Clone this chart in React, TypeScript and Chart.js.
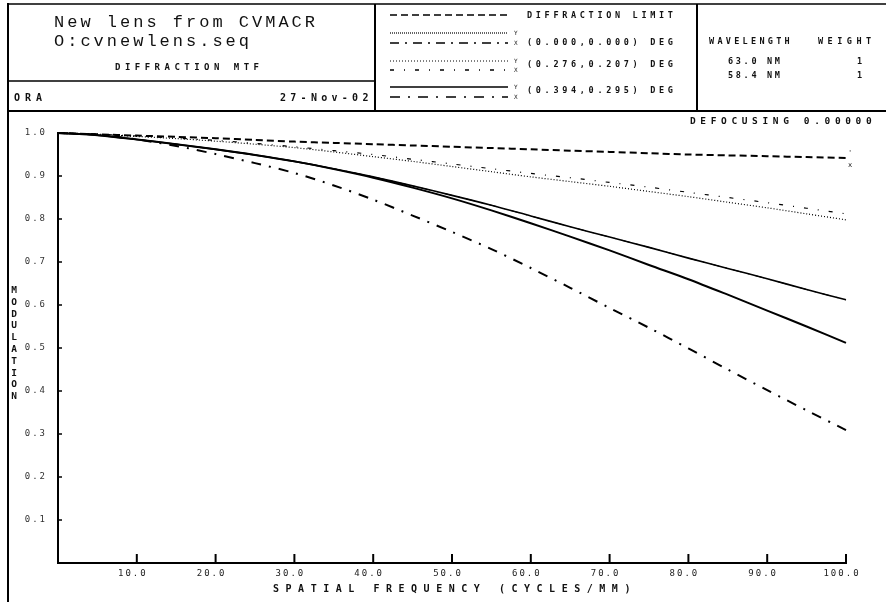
import React, { useEffect, useRef } from 'react';
import { Chart, registerables } from 'chart.js';
Chart.register(...registerables);

const frequencies = [0, 5, 10, 15, 20, 25, 30, 35, 40, 45, 50, 55, 60, 65, 70, 75, 80, 85, 90, 95, 100];
const diffractionLimit = [1.0, 0.997, 0.994, 0.991, 0.988, 0.984, 0.98, 0.977, 0.974, 0.971, 0.968, 0.965, 0.962, 0.959, 0.956, 0.953, 0.95, 0.948, 0.946, 0.944, 0.942];
const field0Y = [1.0, 0.995, 0.985, 0.974, 0.962, 0.949, 0.934, 0.917, 0.898, 0.877, 0.855, 0.832, 0.807, 0.782, 0.758, 0.734, 0.709, 0.685, 0.661, 0.636, 0.612];
const field0X = [1.0, 0.995, 0.985, 0.974, 0.962, 0.949, 0.934, 0.917, 0.898, 0.877, 0.855, 0.832, 0.807, 0.782, 0.758, 0.734, 0.709, 0.685, 0.661, 0.636, 0.612];
const field1Y = [1.0, 0.997, 0.992, 0.987, 0.981, 0.974, 0.966, 0.956, 0.945, 0.934, 0.922, 0.91, 0.898, 0.887, 0.876, 0.864, 0.852, 0.839, 0.826, 0.812, 0.798];
const field1X = [1.0, 0.997, 0.993, 0.988, 0.983, 0.976, 0.968, 0.959, 0.95, 0.939, 0.928, 0.917, 0.906, 0.896, 0.885, 0.874, 0.862, 0.85, 0.838, 0.825, 0.812];
const field2Y = [1.0, 0.995, 0.985, 0.974, 0.962, 0.949, 0.934, 0.916, 0.896, 0.873, 0.848, 0.82, 0.79, 0.759, 0.727, 0.693, 0.66, 0.624, 0.587, 0.55, 0.512];
const field2X = [1.0, 0.996, 0.985, 0.97, 0.951, 0.93, 0.907, 0.878, 0.845, 0.808, 0.77, 0.73, 0.686, 0.64, 0.593, 0.547, 0.499, 0.45, 0.402, 0.355, 0.309];

const xTickValues = [10, 20, 30, 40, 50, 60, 70, 80, 90, 100];
const yTickValues = [0.1, 0.2, 0.3, 0.4, 0.5, 0.6, 0.7, 0.8, 0.9, 1.0];

const fieldLabels = ['(0.000,0.000) DEG', '(0.276,0.207) DEG', '(0.394,0.295) DEG'];
const wavelengths = ['63.0 NM', '58.4 NM'];
const weights = ['1', '1'];

const DASH_DIFF = [7, 4];
const DASH_F0X = [9, 6, 2, 6];
const DASH_F1Y = [1, 2];
const DASH_F1X = [4, 10, 1, 10];
const DASH_F2X = [10, 8, 2, 8];

const MONO = '"Liberation Mono", "DejaVu Sans Mono", monospace';
const PLOT = '"DejaVu Sans Mono", "Liberation Mono", monospace';

function drawSpaced(ctx: CanvasRenderingContext2D, text: string, x: number, y: number, pitch: number) {
  ctx.textAlign = 'left';
  ctx.textBaseline = 'alphabetic';
  for (let i = 0; i < text.length; i++) {
    ctx.fillText(text[i], x + i * pitch, y);
  }
}

function seg(ctx: CanvasRenderingContext2D, x1: number, y1: number, x2: number, y2: number, w: number, dash: number[] = []) {
  ctx.beginPath();
  ctx.lineWidth = w;
  ctx.setLineDash(dash);
  ctx.moveTo(x1, y1);
  ctx.lineTo(x2, y2);
  ctx.stroke();
  ctx.setLineDash([]);
}

const decorPlugin = {
  id: 'decor',
  beforeDraw(chart: any) {
    (chart.ctx as any).letterSpacing = '2px';
  },
  afterDraw(chart: any) {
    const ctx: CanvasRenderingContext2D = chart.ctx;
    const xs = chart.scales.x;
    const ys = chart.scales.y;
    ctx.save();
    (ctx as any).letterSpacing = '0px';
    ctx.strokeStyle = '#000';
    ctx.fillStyle = '#111';

    // frame
    seg(ctx, 8, 4, 886, 4, 1.5);
    seg(ctx, 8, 3, 8, 602, 2);
    seg(ctx, 8, 111, 886, 111, 2);
    seg(ctx, 375, 4, 375, 111, 2);
    seg(ctx, 697, 4, 697, 111, 2);
    seg(ctx, 8, 81, 375, 81, 1.5);

    // title block
    ctx.font = `17px ${MONO}`;
    drawSpaced(ctx, 'New lens from CVMACR', 54, 27, 13.2);
    drawSpaced(ctx, 'O:cvnewlens.seq', 54, 46, 13.2);
    ctx.font = `bold 9px ${PLOT}`;
    drawSpaced(ctx, 'DIFFRACTION MTF', 115, 70, 9.9);
    ctx.font = `bold 10px ${PLOT}`;
    drawSpaced(ctx, 'ORA', 14, 101, 11);
    drawSpaced(ctx, '27-Nov-02', 280, 101, 10.3);

    // legend
    const lx1 = 390, lx2 = 508;
    seg(ctx, lx1, 15, lx2, 15, 1.5, DASH_DIFF);
    ctx.font = `bold 8.5px ${PLOT}`;
    drawSpaced(ctx, 'DIFFRACTION LIMIT', 527, 18, 8.8);
    const pairs = [
      { yy: 33, xy: 43, yDash: [1, 1], xDash: DASH_F0X, yw: 1.2, ty: 45 },
      { yy: 61, xy: 70, yDash: DASH_F1Y, xDash: DASH_F1X, yw: 1, ty: 67 },
      { yy: 87, xy: 97, yDash: [], xDash: DASH_F2X, yw: 1.5, ty: 93 },
    ];
    pairs.forEach((p, i) => {
      seg(ctx, lx1, p.yy, lx2, p.yy, p.yw, p.yDash);
      seg(ctx, lx1, p.xy, lx2, p.xy, 1.5, p.xDash);
      ctx.font = `6px ${PLOT}`;
      ctx.fillText('Y', 514, p.yy + 2);
      ctx.fillText('X', 514, p.xy + 2);
      ctx.font = `bold 8.5px ${PLOT}`;
      drawSpaced(ctx, fieldLabels[i], 527, p.ty, 8.8);
    });

    // wavelength block
    ctx.font = `bold 8.5px ${PLOT}`;
    drawSpaced(ctx, 'WAVELENGTH', 709, 44, 8.4);
    drawSpaced(ctx, 'WEIGHT', 818, 44, 9.6);
    wavelengths.forEach((w, i) => {
      drawSpaced(ctx, w, 728, 64 + i * 14, 7.8);
      drawSpaced(ctx, weights[i], 857, 64 + i * 14, 8);
    });
    ctx.font = `bold 9.5px ${PLOT}`;
    drawSpaced(ctx, 'DEFOCUSING 0.00000', 690, 124, 10.35);

    // inward tick marks
    ctx.strokeStyle = '#000';
    yTickValues.forEach((v) => {
      const py = ys.getPixelForValue(v);
      seg(ctx, xs.left, py, xs.left + 4, py, 1.5);
    });
    xTickValues.forEach((v) => {
      const px = xs.getPixelForValue(v);
      seg(ctx, px, ys.bottom, px, ys.bottom - 9, 2);
    });

    // axis titles
    ctx.font = `bold 10px ${PLOT}`;
    drawSpaced(ctx, 'SPATIAL FREQUENCY (CYCLES/MM)', 273, 592, 12.55);
    const ylab = 'MODULATION';
    ctx.font = `bold 9.5px ${PLOT}`;
    ctx.textAlign = 'center';
    for (let i = 0; i < ylab.length; i++) {
      ctx.fillText(ylab[i], 14, 293 + i * 11.8);
    }

    // end marker near diffraction limit curve
    ctx.font = `7px ${PLOT}`;
    ctx.textAlign = 'left';
    const ex = xs.getPixelForValue(frequencies[frequencies.length - 1]);
    const ey = ys.getPixelForValue(diffractionLimit[diffractionLimit.length - 1]);
    ctx.fillText('x', ex + 2, ey + 9);
    ctx.fillText("'", ex + 2, ey - 3);

    ctx.restore();
  },
};

export default function App() {
  const ref = useRef<HTMLCanvasElement>(null);
  useEffect(() => {
    if (!ref.current) return;
    const pts = (arr: number[]) => frequencies.map((f, i) => ({ x: f, y: arr[i] }));
    const ds = (arr: number[], dash: number[], w: number) => ({
      data: pts(arr),
      borderColor: '#000',
      borderWidth: w,
      borderDash: dash,
      pointRadius: 0,
      tension: 0.3,
      fill: false,
      clip: 8,
    });
    const chart = new Chart(ref.current, {
      type: 'line',
      data: {
        datasets: [
          { label: 'DIFFRACTION LIMIT', ...ds(diffractionLimit, DASH_DIFF, 2) },
          { label: fieldLabels[0] + ' Y', ...ds(field0Y, [], 1.6) },
          { label: fieldLabels[0] + ' X', ...ds(field0X, DASH_F0X, 1) },
          { label: fieldLabels[1] + ' Y', ...ds(field1Y, DASH_F1Y, 1.2) },
          { label: fieldLabels[1] + ' X', ...ds(field1X, DASH_F1X, 1.2) },
          { label: fieldLabels[2] + ' Y', ...ds(field2Y, [], 2) },
          { label: fieldLabels[2] + ' X', ...ds(field2X, DASH_F2X, 2) },
        ] as any,
      },
      options: {
        animation: false,
        responsive: false,
        maintainAspectRatio: false,
        layout: { padding: { left: 18, right: 40, top: 133, bottom: 0 } },
        plugins: { legend: { display: false }, tooltip: { enabled: false } },
        scales: {
          x: {
            type: 'linear',
            min: 0,
            max: 100,
            afterBuildTicks: (s: any) => {
              s.ticks = xTickValues.map((v) => ({ value: v }));
            },
            afterFit: (s: any) => {
              s.height = 39;
            },
            grid: { display: false, drawTicks: false },
            border: { display: true, color: '#000', width: 2 },
            ticks: {
              padding: 5,
              labelOffset: -4,
              autoSkip: false,
              maxRotation: 0,
              color: '#222',
              font: { family: PLOT, size: 9 },
              callback: (v: any) => Number(v).toFixed(1),
            },
          },
          y: {
            type: 'linear',
            min: 0,
            max: 1,
            afterBuildTicks: (s: any) => {
              s.ticks = yTickValues.map((v) => ({ value: v }));
            },
            afterFit: (s: any) => {
              s.width = 40;
            },
            grid: { display: false, drawTicks: false },
            border: { display: true, color: '#000', width: 2 },
            ticks: {
              padding: 11,
              autoSkip: false,
              color: '#333',
              font: { family: PLOT, size: 9 },
              callback: (v: any) => Number(v).toFixed(1),
            },
          },
        },
      } as any,
      plugins: [decorPlugin],
    });
    return () => chart.destroy();
  }, []);
  return (
    <div style={{ position: 'absolute', left: 0, top: 0, width: 886, height: 602, background: '#fff' }}>
      <canvas ref={ref} width={886} height={602} style={{ display: 'block', width: 886, height: 602 }} />
    </div>
  );
}
